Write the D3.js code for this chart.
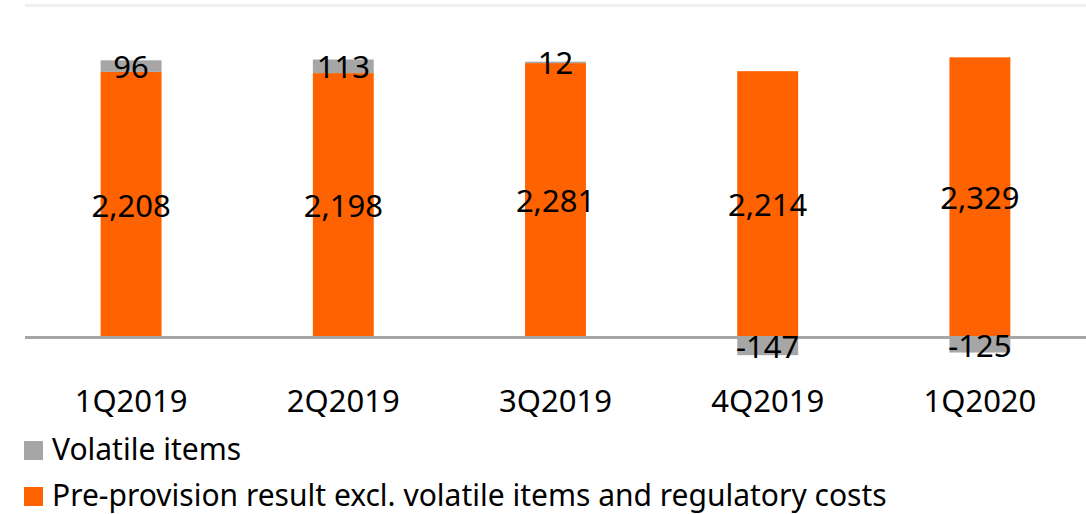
<!DOCTYPE html>
<html>
<head>
<meta charset="utf-8">
<script src="https://cdn.jsdelivr.net/npm/d3@7"></script>
<style>
  body { margin: 0; background: #fff; }
  text { font-family: "Noto Sans", sans-serif; fill: #000; }
</style>
</head>
<body>
<svg width="1086" height="514"></svg>
<script>
var quarters = ["1Q2019", "2Q2019", "3Q2019", "4Q2019", "1Q2020"];
var coreResult = [2208, 2198, 2281, 2214, 2329];
var volatileItems = [96, 113, 12, -147, -125];
var legendLabels = ["Volatile items", "Pre-provision result excl. volatile items and regulatory costs"];

var orange = "#ff6200", grey = "#a6a6a6";

var svg = d3.select("svg"),
	margin = {top: 5, left: 25},
	width = 1086 - margin.left,
	zeroY = 337.5;

var x = d3.scaleBand()
	.domain(quarters)
	.range([margin.left, margin.left + width])
	.paddingInner(0.713)
	.paddingOuter(0.3565);

var y = d3.scaleLinear()
	.domain([0, 2764])
	.range([zeroY, margin.top]);

var rows = quarters.map(function(q, i) {
  var v = volatileItems[i], c = coreResult[i];
  return {
    q: q,
    core: [0, c],
    vol: v >= 0 ? [c, c + v] : [v, 0],
    c: c,
    v: v
  };
});

// top gridline
svg.append("line")
  .attr("x1", margin.left).attr("x2", 1086)
  .attr("y1", y(2764) + 0.5).attr("y2", y(2764) + 0.5)
  .attr("stroke", "#f0f0f0")
  .attr("stroke-width", 3);

var g = svg.append("g");

g.selectAll(".core")
  .data(rows)
  .enter().append("rect")
  .attr("class", "core")
  .attr("x", function(d) { return x(d.q); })
  .attr("width", x.bandwidth())
  .attr("y", function(d) { return y(d.core[1]); })
  .attr("height", function(d) { return y(d.core[0]) - y(d.core[1]); })
  .attr("fill", orange);

g.selectAll(".vol")
  .data(rows)
  .enter().append("rect")
  .attr("class", "vol")
  .attr("x", function(d) { return x(d.q); })
  .attr("width", x.bandwidth())
  .attr("y", function(d) { return y(d.vol[1]); })
  .attr("height", function(d) { return y(d.vol[0]) - y(d.vol[1]); })
  .attr("fill", grey);

// zero axis line
svg.append("line")
  .attr("x1", margin.left).attr("x2", 1086)
  .attr("y1", y(0)).attr("y2", y(0))
  .attr("stroke", grey)
  .attr("stroke-width", 3);

var fmt = d3.formatLocale({decimal: ".", thousands: ",", grouping: [3], currency: ["", ""], minus: "-"}).format(",");

svg.selectAll(".lab-core")
  .data(rows)
  .enter().append("text")
  .attr("x", function(d) { return x(d.q) + x.bandwidth() / 2; })
  .attr("y", function(d) { return (y(d.core[0]) + y(d.core[1])) / 2; })
  .attr("text-anchor", "middle")
  .attr("dominant-baseline", "central")
  .style("font-size", "31px")
  .text(function(d) { return fmt(d.c); });

svg.selectAll(".lab-vol")
  .data(rows)
  .enter().append("text")
  .attr("x", function(d) { return x(d.q) + x.bandwidth() / 2; })
  .attr("y", function(d) { return (y(d.vol[0]) + y(d.vol[1])) / 2; })
  .attr("text-anchor", "middle")
  .attr("dominant-baseline", "central")
  .style("font-size", "31px")
  .text(function(d) { return fmt(d.v); });

// category axis
var xAxis = svg.append("g")
  .attr("transform", "translate(0," + 412 + ")")
  .call(d3.axisBottom(x).tickSize(0).tickPadding(0));
xAxis.select(".domain").remove();
xAxis.selectAll("text")
  .attr("dy", 0)
  .attr("y", 0)
  .style("font-size", "31px")
  .style("font-family", "'Noto Sans', sans-serif")
  .attr("fill", "#000");

// legend
var legend = svg.selectAll(".legend")
  .data(legendLabels)
  .enter().append("g")
  .attr("class", "legend")
  .attr("transform", function(d, i) { return "translate(24," + (441 + i * 46) + ")"; });

legend.append("rect")
  .attr("width", 19).attr("height", 19)
  .attr("fill", function(d, i) { return i === 0 ? grey : orange; });

legend.append("text")
  .attr("x", 28)
  .attr("y", 7)
  .attr("dominant-baseline", "central")
  .style("font-size", "30px")
  .text(function(d) { return d; });
</script>
</body>
</html>
